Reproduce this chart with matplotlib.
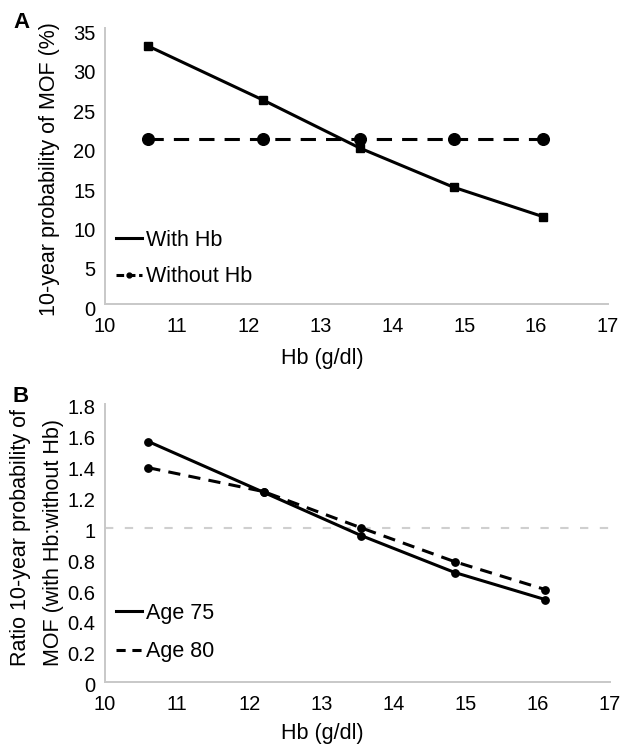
import matplotlib
matplotlib.use("Agg")
import matplotlib.pyplot as plt
import matplotlib.transforms as mtransforms
from matplotlib.lines import Line2D

plt.rcParams['font.family'] = ['Liberation Sans', 'DejaVu Sans']

# ---- data ----
hb = [10.6, 12.2, 13.55, 14.85, 16.1]
with_hb = [32.75, 25.9, 19.8, 14.85, 11.1]
without_hb = [21.0, 21.0, 21.0, 21.0, 21.0]
age75 = [1.56, 1.23, 0.95, 0.71, 0.535]
age80 = [1.39, 1.235, 1.00, 0.78, 0.60]
xticks = [10, 11, 12, 13, 14, 15, 16, 17]
yticks_a = [0, 5, 10, 15, 20, 25, 30, 35]
yticks_b = [0, 0.2, 0.4, 0.6, 0.8, 1.0, 1.2, 1.4, 1.6, 1.8]
yticklabels_b = ['0', '0.2', '0.4', '0.6', '0.8', '1', '1.2', '1.4', '1.6', '1.8']

W, H = 627, 747
fig = plt.figure(figsize=(W / 100, H / 100), dpi=100)

def ax_rect(left, top, right, bottom):
    return [left / W, 1 - bottom / H, (right - left) / W, (bottom - top) / H]

spine_col = '#c8c8c8'
TICK_FS = 14.5
LAB_FS = 15.5

def style(ax):
    for s in ['top', 'right']:
        ax.spines[s].set_visible(False)
    for s in ['left', 'bottom']:
        ax.spines[s].set_color(spine_col)
        ax.spines[s].set_linewidth(1.4)
    ax.tick_params(axis='both', length=0, labelsize=TICK_FS, colors='black')
    ax.tick_params(axis='x', pad=9)
    ax.tick_params(axis='y', pad=7)
    ax.set_xlim(10, 17)
    ax.set_xticks(xticks)

def shift_ylabels(ax, px):
    off = mtransforms.ScaledTranslation(0, -px / 100, fig.dpi_scale_trans)
    for lab in ax.get_yticklabels():
        lab.set_transform(lab.get_transform() + off)

# ---- Panel A ----
axA = fig.add_axes(ax_rect(105, 28.3, 608, 304.3))
style(axA)
axA.set_ylim(0, 35)
axA.set_yticks(yticks_a)
axA.plot(hb, with_hb, color='black', lw=2.2, marker='s', markersize=6,
         solid_capstyle='round', zorder=3)
axA.plot(hb, without_hb, color='black', lw=2.2, marker='o', markersize=8.4,
         dashes=(5, 3.3), zorder=3)
hA = [Line2D([], [], color='black', lw=2.2),
      Line2D([], [], color='black', lw=2.2, dashes=(2.5, 1.2), marker='o', markersize=3.5)]
axA.legend(hA, ['With Hb', 'Without Hb'], loc='upper left', frameon=False,
           fontsize=LAB_FS, handlelength=1.2, handletextpad=0.2, labelspacing=0.72,
           borderpad=0, borderaxespad=0,
           bbox_to_anchor=((116 - 105) / 503, (304.3 - 230) / 276))
axA.set_xlabel('Hb (g/dl)', fontsize=LAB_FS)
axA.xaxis.set_label_coords((322 - 105) / 503, -(348 - 304.3) / 276)
fig.text(50 / W, 1 - 169 / H, '10-year probability of MOF (%)', rotation=90,
         fontsize=LAB_FS, ha='center', va='center')
fig.text(21 / W, 1 - 22.5 / H, 'A', fontsize=16, fontweight='bold', ha='center', va='center')

# ---- Panel B ----
axB = fig.add_axes(ax_rect(105, 404.5, 610, 682))
style(axB)
axB.set_ylim(0, 1.8)
axB.set_yticks(yticks_b)
axB.set_yticklabels(yticklabels_b)
axB.axhline(1.0, color='#cfcfcf', lw=1.5, dashes=(4, 5.5), zorder=1)
axB.plot(hb, age75, color='black', lw=2.2, marker='o', markersize=5.3, zorder=3)
axB.plot(hb, age80, color='black', lw=2.2, marker='o', markersize=5.3,
         dashes=(4, 2.7), zorder=3)
hB = [Line2D([], [], color='black', lw=2.2),
      Line2D([], [], color='black', lw=2.2, dashes=(3, 2.2))]
axB.legend(hB, ['Age 75', 'Age 80'], loc='upper left', frameon=False,
           fontsize=LAB_FS, handlelength=1.2, handletextpad=0.2, labelspacing=0.8,
           borderpad=0, borderaxespad=0,
           bbox_to_anchor=((116 - 105) / 505, (682 - 603) / 277.5))
axB.set_xlabel('Hb (g/dl)', fontsize=LAB_FS)
axB.xaxis.set_label_coords((322 - 105) / 505, -(723 - 682) / 277.5)
fig.text(37 / W, 1 - 537 / H, 'Ratio 10-year probability of\nMOF (with Hb:without Hb)',
         rotation=90, fontsize=LAB_FS, ha='center', va='center',
         multialignment='left', linespacing=1.75)
fig.text(21 / W, 1 - 396 / H, 'B', fontsize=16, fontweight='bold', ha='center', va='center')

shift_ylabels(axA, 4)
shift_ylabels(axB, 2.5)

fig.savefig('out.png', dpi=100)
